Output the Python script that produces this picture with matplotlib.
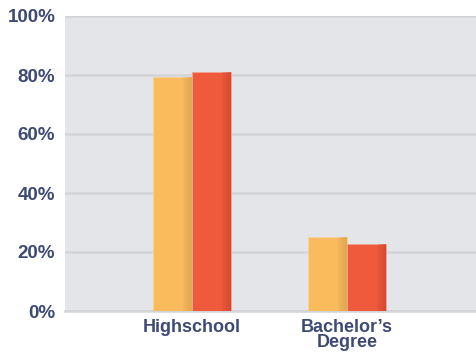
import numpy as np
import matplotlib
matplotlib.use("Agg")
import matplotlib.pyplot as plt
from matplotlib.ticker import FuncFormatter

categories = ["Highschool", "Bachelor\u2019s\nDegree"]
series_a = [79.2, 25.0]   # yellow
series_b = [81.0, 22.7]   # red
yticks = [0, 20, 40, 60, 80, 100]

COL_A = "#f9bb5c"
COL_B = "#ef5a3d"
SHADE_A = "#d59f4c"
SHADE_B = "#c8452c"
TXT = "#3d4a74"


def plot(ax):
    x = np.arange(len(categories))
    w = 0.252
    ax.bar(x - w / 2, series_a, width=w, color=COL_A, edgecolor="#f5d3a0", linewidth=0.6, zorder=3)
    ax.bar(x + w / 2, series_b, width=w, color=COL_B, edgecolor="#f2a38f", linewidth=0.6, zorder=3)
    # darker strip on the right side of each bar, fading in
    for k in range(6):
        sw = w * 0.24 * (1 - k / 6)
        a = 0.14
        ax.bar(x - sw / 2, series_a, width=sw, color=SHADE_A, alpha=a, linewidth=0, zorder=4)
        ax.bar(x + w - sw / 2, series_b, width=sw, color=SHADE_B, alpha=a, linewidth=0, zorder=4)

    ax.set_facecolor("#e4e5e8")
    ax.set_xlim(-0.819, 1.839)
    ax.set_ylim(0, 100)
    ax.set_yticks(yticks)
    ax.yaxis.set_major_formatter(FuncFormatter(lambda v, p: f"{v:.0f}%"))
    ax.grid(axis="y", color="#d3d4d7", linewidth=1.8, zorder=1)
    ax.set_axisbelow(True)
    ax.set_xticks(x)
    ax.set_xticklabels(categories, linespacing=0.8)
    for s in ["top", "right", "left"]:
        ax.spines[s].set_visible(False)
    ax.spines["bottom"].set_color("#d3d4d7")
    ax.spines["bottom"].set_linewidth(1.8)
    ax.tick_params(axis="both", length=0, labelcolor=TXT)
    ax.tick_params(axis="y", pad=7, labelsize=13.5)
    ax.tick_params(axis="x", pad=6, labelsize=13)
    for t in ax.get_xticklabels() + ax.get_yticklabels():
        t.set_fontweight("bold")


def main():
    plt.rcParams["font.family"] = ["Liberation Sans", "DejaVu Sans"]
    fig = plt.figure(figsize=(4.77, 3.53), dpi=100)
    fig.patch.set_facecolor("white")
    ax = fig.add_axes([65 / 477, 42 / 353, 1 - 65 / 477, 295 / 353])
    plot(ax)
    fig.savefig("out.png", dpi=100)


if __name__ == "__main__":
    main()
